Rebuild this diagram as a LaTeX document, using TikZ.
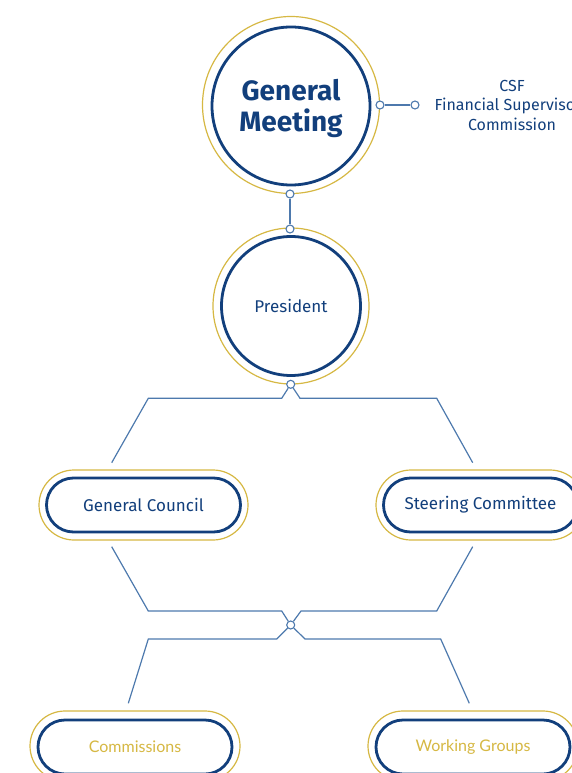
\documentclass[tikz,border=0pt]{standalone}
\usepackage{fontspec}
\setmainfont{Fira Sans}
\newfontfamily\latofont{Lato}
\definecolor{navy}{HTML}{123F7C}
\definecolor{linkblue}{HTML}{4D79AD}
\definecolor{gold}{HTML}{D6B843}

\begin{document}
\begin{tikzpicture}[x=1pt, y=-1pt,
  outerring/.style={circle, draw=gold, line width=1.2pt, fill=white, inner sep=0pt, minimum size=#1},
  innerring/.style={circle, draw=navy, line width=2.8pt, inner sep=0pt, minimum size=#1, text=navy, align=center},
  outerpill/.style={draw=gold, line width=1.2pt, fill=white, rounded corners=35pt, minimum width=#1, minimum height=70pt},
  innerpill/.style={draw=navy, line width=2.8pt, rounded corners=27pt, minimum width=#1, minimum height=54pt, font=\fontsize{17}{20}\selectfont},
  dot/.style={circle, draw=linkblue, line width=1.1pt, fill=white, inner sep=0pt, minimum size=8pt},
  link/.style={draw=linkblue, line width=1.2pt}]
\useasboundingbox (0,0) rectangle (572,773);
\clip (0,0) rectangle (572,773);

% General Meeting
\node[outerring=177pt] (gmout) at (291,105) {};
\node[innerring=158pt, font=\fontsize{28}{31}\selectfont\bfseries] (gm) at (291,106) {};
\node[text=navy, align=center, font=\fontsize{28}{31}\selectfont\bfseries] (gmtext) at (291,108) {General\\Meeting};

% President
\node[outerring=156pt] (presout) at (291,306) {};
\node[innerring=139pt, font=\fontsize{17}{20}\selectfont] (pres) at (291,306) {President};

% second row
\node[outerpill=209pt] (gcout) at (143.5,505) {};
\node[innerpill=194pt, text=navy] (gc) at (143.5,505) {General Council};
\node[outerpill=209pt] (scout) at (480.5,505) {};
\node[innerpill=194pt, text=navy] (sc) at (480.5,505) {Steering Committee};

% third row
\node[outerpill=210pt] (comout) at (135,746) {};
\node[innerpill=194pt, text=gold, font=\fontsize{16}{18}\latofont] (com) at (135,747) {Commissions};
\node[outerpill=210pt] (wgout) at (473,746) {};
\node[innerpill=194pt, text=gold, font=\fontsize{16}{18}\latofont] (wg) at (473,747) {Working Groups};

% CSF label
\node[text=navy, align=center, font=\fontsize{16}{19.5}\selectfont] (csf) at (512,105) {CSF\\Financial Supervisory\\Commission};

% junction points
\node[dot] (gmright) at (380,105) {};
\node[dot] (csfdot) at (415,105) {};
\node[dot] (gmbot) at (290,194) {};
\node[dot] (prestop) at (290,229) {};
\node[dot] (presbot) at (290.7,384.3) {};
\node[dot] (hub) at (290.7,625) {};

\coordinate (gcin) at (111.7,462.7);
\coordinate (scin) at (472.7,462.7);
\coordinate (gcoutl) at (111.7,546.7);
\coordinate (scoutl) at (472.7,546.7);
\coordinate (comin) at (128.3,703.3);
\coordinate (wgin) at (469.3,703.3);

% connectors
\draw[link] (gmright) -- (csfdot);
\draw[link] (gmbot) -- (prestop);
\draw[link] (presbot) -- (281.7,398.3) -- (148.3,398.3) -- (gcin);
\draw[link] (presbot) -- (300,398.3) -- (436.7,398.3) -- (scin);
\draw[link] (gcoutl) -- (148.3,611) -- (281.7,611) -- (hub);
\draw[link] (scoutl) -- (436.7,611) -- (301,611) -- (hub);
\draw[link] (hub) -- (276.7,639) -- (148.3,639) -- (comin);
\draw[link] (hub) -- (305,639) -- (440.7,639) -- (wgin);
\end{tikzpicture}
\end{document}
